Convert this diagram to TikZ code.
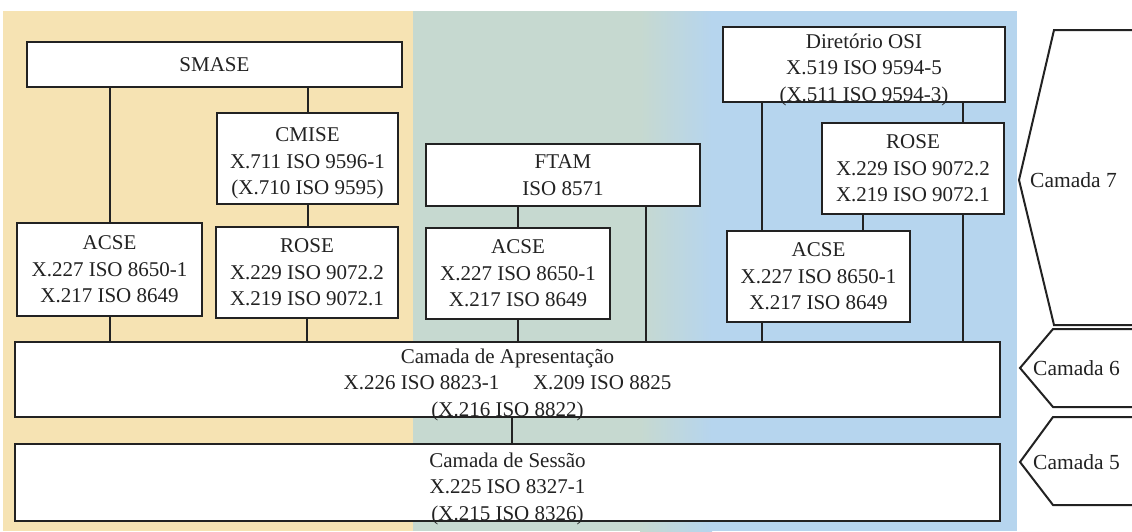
\documentclass[tikz,border=0pt]{standalone}
\usepackage{fontspec}
\setmainfont{Liberation Serif}
\definecolor{bgbeige}{HTML}{F6E3B3}
\definecolor{bggreen}{HTML}{C6D9D0}
\definecolor{bgblue}{HTML}{B6D5EE}
\definecolor{inkc}{HTML}{222222}
\begin{document}
\begin{tikzpicture}[x=1pt,y=-1pt,
  boxtext/.style={inner sep=0pt, align=center, font=\fontsize{21}{26.5}\selectfont, text=inkc},
  box/.style={boxtext, draw=inkc, line width=2pt, fill=white},
  link/.style={draw=inkc, line width=2pt},
  layer/.style={draw=inkc, line width=2pt, line join=miter},
  lbl/.style={font=\fontsize{21.5}{26}\selectfont, anchor=west, inner sep=0pt, text=inkc}]
\useasboundingbox (0,0) rectangle (1132,531);
% backgrounds
\fill[bgbeige] (3,11) rectangle (413,531);
\fill[bggreen] (413,11) rectangle (640,531);
\shade[left color=bggreen, right color=bgblue] (640,11) rectangle (712,531);
\fill[bgblue] (712,11) rectangle (1017,531);
% boxes
\node[box, minimum width=375pt, minimum height=45pt] (smase) at (214.5,64.5) {SMASE};
\node[box, minimum width=181pt, minimum height=91pt] (cmise) at (307.5,158.5) {};
\node[boxtext, yshift=-5pt] (cmiseT) at (cmise.center) {CMISE\\X.711 ISO 9596-1\\(X.710 ISO 9595)};
\node[box, minimum width=185pt, minimum height=93pt] (acseA) at (109.5,269.5) {ACSE\\X.227 ISO 8650-1\\X.217 ISO 8649};
\node[box, minimum width=182pt, minimum height=91pt] (roseA) at (307,272.5) {ROSE\\X.229 ISO 9072.2\\X.219 ISO 9072.1};
\node[box, minimum width=274pt, minimum height=62pt] (ftam) at (563,175) {FTAM\\ISO 8571};
\node[box, minimum width=184pt, minimum height=91pt] (acseB) at (518,273.5) {ACSE\\X.227 ISO 8650-1\\X.217 ISO 8649};
\node[box, minimum width=282pt, minimum height=75pt] (dir) at (864,64.5) {};
\node[boxtext, yshift=-5pt] (dirT) at (dir.center) {Diretório OSI\\X.519 ISO 9594-5\\(X.511 ISO 9594-3)};
\node[box, minimum width=182pt, minimum height=91pt] (roseC) at (913,168.5) {ROSE\\X.229 ISO 9072.2\\X.219 ISO 9072.1};
\node[box, minimum width=183pt, minimum height=91pt] (acseC) at (818.5,276.5) {ACSE\\X.227 ISO 8650-1\\X.217 ISO 8649};
\node[box, minimum width=985pt, minimum height=75pt] (pres) at (507.5,379.5) {};
\node[boxtext, yshift=-5pt] (presT) at (pres.center) {Camada de Apresentação\\X.226 ISO 8823-1\hspace{1.6em}X.209 ISO 8825\\(X.216 ISO 8822)};
\node[box, minimum width=985pt, minimum height=77pt] (sess) at (507.5,482.5) {};
\node[boxtext, yshift=-6pt] (sessT) at (sess.center) {Camada de Sessão\\X.225 ISO 8327-1\\(X.215 ISO 8326)};
% connectors
\draw[link] (acseA.north |- smase.south) -- (acseA.north);
\draw[link] (cmise.north |- smase.south) -- (cmise.north);
\draw[link] (cmise.south) -- (cmise.south |- roseA.north);
\draw[link] (acseA.south) -- (acseA.south |- pres.north);
\draw[link] (roseA.south) -- (roseA.south |- pres.north);
\draw[link] (acseB.north |- ftam.south) -- (acseB.north);
\draw[link] (acseB.south) -- (acseB.south |- pres.north);
\coordinate (cF) at ([xshift=-55pt]ftam.south east);
\draw[link] (cF) -- (cF |- pres.north);
\coordinate (cA) at ([xshift=36pt]acseC.north west);
\draw[link] (cA |- dir.south) -- (cA);
\draw[link] (cA |- acseC.south) -- (cA |- pres.north);
\coordinate (cB) at ([xshift=-42pt]roseC.north east);
\draw[link] (cB |- dir.south) -- (cB);
\draw[link] (cB |- roseC.south) -- (cB |- pres.north);
\coordinate (cC) at ([xshift=42pt]roseC.south west);
\draw[link] (cC) -- (cC |- acseC.north);
\coordinate (cD) at ([xshift=4.5pt]pres.south);
\draw[link] (cD) -- (cD |- sess.north);
% layer brackets
\draw[layer] (1132,30) -- (1054,30) -- (1019,180) -- (1054,325) -- (1132,325);
\draw[layer] (1132,329) -- (1053,329) -- (1020,368) -- (1053,407) -- (1132,407);
\draw[layer] (1132,417) -- (1053,417) -- (1020,462) -- (1053,505) -- (1132,505);
\node[lbl] (l7) at (1030,180) {Camada 7};
\node[lbl] (l6) at (1033,368) {Camada 6};
\node[lbl] (l5) at (1033,462) {Camada 5};
\end{tikzpicture}
\end{document}
